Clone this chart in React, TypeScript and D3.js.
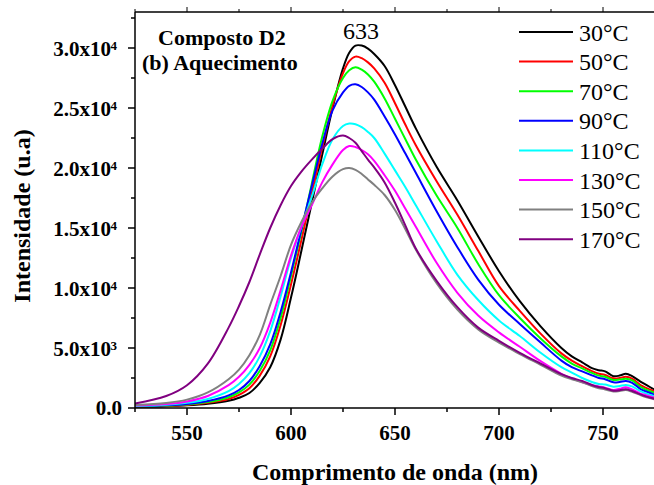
import React from "react";
import * as d3 from "d3";

const wavelengths = [525, 540, 550, 560, 570, 575, 580, 585, 590, 595, 600, 605, 610, 615, 620, 625, 628, 631, 634, 637, 640, 645, 650, 655, 660, 670, 680, 690, 700, 710, 720, 730, 735, 740, 745, 748, 751, 755, 758, 761, 764, 768, 771, 775];

const s30 = [100, 150, 220, 350, 600, 850, 1250, 2100, 3400, 5700, 9200, 13100, 17100, 21100, 25000, 28300, 29600, 30200, 30200, 29950, 29500, 28500, 26900, 25100, 23300, 20100, 17300, 14300, 11400, 8900, 6800, 5000, 4300, 3800, 3300, 3150, 3050, 2650, 2700, 2850, 2650, 2200, 1900, 1500];
const s50 = [110, 170, 260, 430, 750, 1100, 1650, 2700, 4300, 6900, 10300, 14000, 17900, 21700, 25200, 27900, 28900, 29280, 29150, 28800, 28300, 27100, 25400, 23600, 21900, 18900, 16100, 13100, 10150, 8100, 6200, 4550, 3950, 3480, 3050, 2850, 2750, 2470, 2500, 2610, 2450, 1900, 1650, 1380];
const s70 = [130, 200, 300, 500, 900, 1300, 1950, 3100, 4800, 7500, 11000, 14700, 18700, 22600, 25600, 27500, 28150, 28400, 28200, 27800, 27200, 25800, 24100, 22400, 20700, 17700, 15000, 12000, 9400, 7500, 5800, 4300, 3700, 3300, 2900, 2700, 2600, 2330, 2370, 2440, 2300, 1770, 1500, 1250];
const s90 = [140, 220, 340, 580, 1050, 1500, 2250, 3500, 5300, 8000, 11300, 14900, 18500, 22000, 24800, 26300, 26850, 26970, 26750, 26300, 25700, 24300, 22800, 21200, 19600, 16400, 13400, 10700, 8600, 7000, 5450, 3950, 3400, 3050, 2700, 2500, 2400, 2140, 2170, 2250, 2100, 1580, 1350, 1100];
const s110 = [160, 270, 430, 750, 1400, 2000, 2900, 4300, 6400, 9300, 12500, 15100, 17600, 20300, 22400, 23500, 23700, 23650, 23400, 23000, 22500, 21200, 19800, 18400, 16900, 13900, 11100, 9000, 7300, 6000, 4600, 3400, 2950, 2500, 2150, 2000, 1950, 1780, 1830, 1920, 1800, 1400, 1200, 980];
const s130 = [200, 330, 550, 1000, 1900, 2600, 3600, 5000, 7100, 9800, 12700, 15100, 16900, 18800, 20300, 21500, 21830, 21750, 21500, 21150, 20600, 19400, 18100, 16600, 15100, 12100, 9600, 7700, 6300, 5100, 3900, 2850, 2450, 2150, 1900, 1800, 1700, 1500, 1600, 1720, 1550, 1200, 1050, 850];
const s150 = [250, 420, 700, 1300, 2400, 3200, 4400, 6100, 8600, 11000, 13600, 15500, 17100, 18300, 19300, 19900, 20000, 19850, 19500, 19050, 18600, 17750, 16500, 14900, 13200, 10400, 8200, 6550, 5450, 4500, 3600, 2700, 2400, 2150, 1800, 1650, 1550, 1380, 1420, 1500, 1350, 1080, 900, 720];
const s170 = [380, 1000, 1900, 3700, 6700, 8500, 10500, 12800, 15000, 16900, 18500, 19700, 20700, 21600, 22400, 22700, 22500, 22100, 21400, 20700, 20050, 18800, 17100, 15200, 13300, 10600, 8400, 6700, 5600, 4600, 3700, 2820, 2500, 2250, 1900, 1750, 1650, 1440, 1480, 1560, 1420, 1130, 950, 760];

const seriesLabels = ["30°C", "50°C", "70°C", "90°C", "110°C", "130°C", "150°C", "170°C"];
const seriesColors = ["#000000", "#ff0000", "#00ff00", "#0000ff", "#00ffff", "#ff00ff", "#808080", "#800080"];
const seriesValues = [s30, s50, s70, s90, s110, s130, s150, s170];

const xMajorTicks = [550, 600, 650, 700, 750];
const xMinorTicks = [525, 575, 625, 675, 725, 775];
const yMajorTicks = [0, 5000, 10000, 15000, 20000, 25000, 30000];
const yMinorTicks = [2500, 7500, 12500, 17500, 22500, 27500, 32500];
const yTickMantissa = ["0.0", "5.0x10", "1.0x10", "1.5x10", "2.0x10", "2.5x10", "3.0x10"];
const yTickExponent = ["", "3", "4", "4", "4", "4", "4"];

const xTitle = "Comprimento de onda (nm)";
const yTitle = "Intensidade (u.a)";
const titleLine1 = "Composto D2";
const titleLine2 = "(b) Aquecimento";
const peakLabel = "633";

const FONT = "'Liberation Serif', 'Times New Roman', serif";

export default function App() {
  const W = 654, H = 485;
  const L = 135, R = 655, T = 12, B = 408;
  const x = d3.scaleLinear().domain([525, 775]).range([L, R]);
  const y = d3.scaleLinear().domain([0, 33000]).range([B, T]);
  const line = d3
    .line<number>()
    .x((_, i) => x(wavelengths[i]))
    .y((d) => y(d))
    .curve(d3.curveCatmullRom.alpha(0.5));

  const legendX1 = 519, legendX2 = 573, legendY0 = 32, legendDy = 29.6;

  return (
    <div style={{ position: "absolute", left: 0, top: 0 }}>
      <svg width={W} height={H} style={{ display: "block", background: "#fff" }} fontFamily={FONT}>
        <defs>
          <clipPath id="plotclip">
            <rect x={L} y={T} width={R - L} height={B - T} />
          </clipPath>
        </defs>
        <rect x={0} y={0} width={W} height={H} fill="#fff" />

        <g clipPath="url(#plotclip)">
          {seriesValues.map((vals, k) => (
            <path key={k} d={line(vals) || ""} fill="none" stroke={seriesColors[k]} strokeWidth={2} strokeLinejoin="round" />
          ))}
        </g>

        {/* axes */}
        <line x1={L} y1={T} x2={L} y2={B} stroke="#000" strokeWidth={1.5} />
        <line x1={L} y1={B} x2={R} y2={B} stroke="#000" strokeWidth={1.5} />
        <line x1={L} y1={T} x2={R} y2={T} stroke="#000" strokeWidth={1.5} />

        {xMajorTicks.map((t) => (
          <g key={"xm" + t}>
            <line x1={x(t)} x2={x(t)} y1={B} y2={B + 7} stroke="#000" strokeWidth={1.5} />
            <line x1={x(t)} x2={x(t)} y1={T} y2={T - 5} stroke="#000" strokeWidth={1} />
            <text x={x(t)} y={B + 31.5} textAnchor="middle" fontSize={21} fontWeight="bold">
              {t}
            </text>
          </g>
        ))}
        {xMinorTicks.map((t) => (
          <g key={"xn" + t}>
            <line x1={x(t)} x2={x(t)} y1={B} y2={B + 4} stroke="#000" strokeWidth={1.5} />
            <line x1={x(t)} x2={x(t)} y1={T} y2={T - 3} stroke="#000" strokeWidth={1} />
          </g>
        ))}
        {yMajorTicks.map((t, i) => (
          <g key={"ym" + t}>
            <line x1={L - 7} x2={L} y1={y(t)} y2={y(t)} stroke="#000" strokeWidth={1.5} />
            {yTickExponent[i] === "" ? (
              <text x={122} y={y(t) + 7} textAnchor="end" fontSize={21} fontWeight="bold">
                {yTickMantissa[i]}
              </text>
            ) : (
              <g>
                <text x={111} y={y(t) + 7.5} textAnchor="end" fontSize={21} fontWeight="bold">
                  {yTickMantissa[i]}
                </text>
                <text x={110.5} y={y(t) + 2} textAnchor="start" fontSize={13} fontWeight="bold">
                  {yTickExponent[i]}
                </text>
              </g>
            )}
          </g>
        ))}
        {yMinorTicks.map((t) => (
          <line key={"yn" + t} x1={L - 4} x2={L} y1={y(t)} y2={y(t)} stroke="#000" strokeWidth={1.5} />
        ))}

        {/* axis titles */}
        <text x={395} y={480} textAnchor="middle" fontSize={24} fontWeight="bold">
          {xTitle}
        </text>
        <text transform="translate(30,216) rotate(-90)" textAnchor="middle" fontSize={24} fontWeight="bold">
          {yTitle}
        </text>

        {/* annotations */}
        <text x={158} y={45} fontSize={22} fontWeight="bold">
          {titleLine1}
        </text>
        <text x={142} y={70} fontSize={22} fontWeight="bold">
          {titleLine2}
        </text>
        <text x={361} y={39} textAnchor="middle" fontSize={24}>
          {peakLabel}
        </text>

        {/* legend */}
        {seriesLabels.map((lab, k) => (
          <g key={"lg" + k}>
            <line x1={legendX1} x2={legendX2} y1={legendY0 + k * legendDy} y2={legendY0 + k * legendDy} stroke={seriesColors[k]} strokeWidth={2} />
            <text x={579} y={legendY0 + k * legendDy + 8.5} fontSize={24}>
              {lab}
            </text>
          </g>
        ))}
      </svg>
    </div>
  );
}
